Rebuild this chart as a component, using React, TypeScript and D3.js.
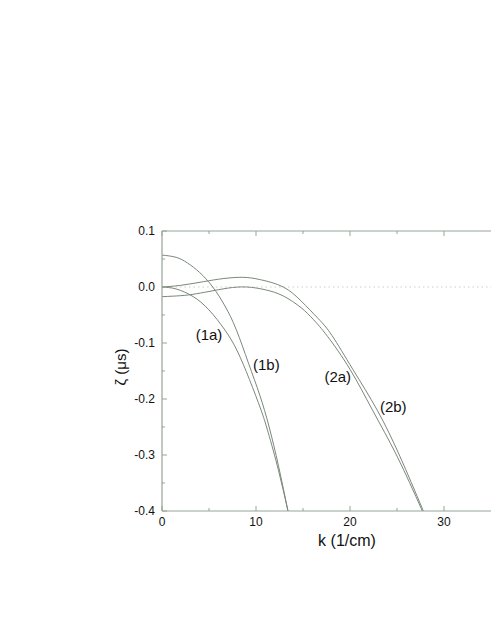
import React from "react";
import * as d3 from "d3";

// Curve (1a)
const k1a = [0, 1.5, 3.3, 5, 6.7, 8, 9.3, 10.5, 11.3, 12.4, 13.4];
const z1a = [0, -0.0035, -0.017, -0.041, -0.077, -0.114, -0.165, -0.218, -0.26, -0.328, -0.4];
// Curve (1b)
const k1b = [0, 1.5, 2.7, 4, 5.4, 6.7, 7.9, 9.2, 10.4, 11.4, 12.4, 13.4];
const z1b = [0.057, 0.053, 0.043, 0.026, 0, -0.034, -0.076, -0.136, -0.193, -0.25, -0.32, -0.4];
// Curve (2a)
const k2a = [0, 2, 3.3, 5, 7, 9, 11, 12.9, 14.8, 16.1, 17.6, 20.0, 22.4, 25.0, 27.7];
const z2a = [-0.0173, -0.0155, -0.013, -0.008, -0.002, 0, -0.005, -0.016, -0.037, -0.058, -0.088, -0.147, -0.22, -0.302, -0.4];
// Curve (2b)
const k2b = [0, 2, 4.4, 6.5, 8.6, 10.5, 12.9, 14.8, 16.6, 18.1, 20.3, 22.9, 25.3, 27.8];
const z2b = [0, 0.003, 0.0095, 0.015, 0.0173, 0.013, 0, -0.025, -0.056, -0.087, -0.147, -0.22, -0.302, -0.4];

const curveNames = ["(1a)", "(1b)", "(2a)", "(2b)"];
const labelK = [5.0, 11.1, 18.7, 24.6];
const labelZ = [-0.086, -0.139, -0.161, -0.214];

const xMajor = [0, 10, 20, 30];
const xMajorLabels = ["0", "10", "20", "30"];
const xMinor = [5, 15, 25];
const yMajor = [0.1, 0, -0.1, -0.2, -0.3, -0.4];
const yMajorLabels = ["0.1", "0.0", "-0.1", "-0.2", "-0.3", "-0.4"];
const yMinor = [0.05, -0.05, -0.15, -0.25, -0.35];

const W = 491;
const H = 635;
const left = 162;
const right = 491;
const top = 231;
const bottom = 511;

export default function App() {
  const x = d3.scaleLinear().domain([0, 35]).range([left, right]);
  const y = d3.scaleLinear().domain([-0.4, 0.1]).range([bottom, top]);
  const line = d3
    .line<[number, number]>()
    .x((d) => x(d[0]))
    .y((d) => y(d[1]))
    .curve(d3.curveNatural);

  const series: [number[], number[]][] = [
    [k1a, z1a],
    [k1b, z1b],
    [k2a, z2a],
    [k2b, z2b],
  ];
  const axisColor = "#98a398";
  const lineColor = "#7a887a";
  const font = "'Liberation Sans', Arial, Helvetica, sans-serif";

  return (
    <svg
      width={W}
      height={H}
      style={{ position: "absolute", left: 0, top: 0, background: "#fff" }}
      fontFamily={font}
    >
      <defs>
        <clipPath id="plotclip">
          <rect x={left} y={top} width={right - left} height={bottom - top} />
        </clipPath>
      </defs>
      {/* zero dotted line */}
      <line
        x1={x(0)}
        x2={right}
        y1={y(0)}
        y2={y(0)}
        stroke="#c9d0c9"
        strokeWidth={1}
        strokeDasharray="1.5,3"
      />
      {/* curves */}
      <g clipPath="url(#plotclip)">
        {series.map(([ks, zs], i) => (
          <path
            key={i}
            d={line(ks.map((k, j) => [k, zs[j]] as [number, number])) || ""}
            fill="none"
            stroke={lineColor}
            strokeWidth={1}
          />
        ))}
      </g>
      {/* frame */}
      <line x1={left} x2={right} y1={top} y2={top} stroke={axisColor} strokeWidth={1.2} />
      <line x1={left} x2={right} y1={bottom} y2={bottom} stroke={axisColor} strokeWidth={1.2} />
      <line x1={left} x2={left} y1={top} y2={bottom} stroke={axisColor} strokeWidth={1.2} />
      {/* x ticks */}
      {xMajor.map((v, i) => (
        <g key={"xm" + i}>
          <line x1={x(v)} x2={x(v)} y1={bottom} y2={bottom - 5} stroke={axisColor} />
          <line x1={x(v)} x2={x(v)} y1={top} y2={top + 5} stroke={axisColor} />
          <text x={x(v)} y={bottom + 15} textAnchor="middle" fontSize={12} fill="#111">
            {xMajorLabels[i]}
          </text>
        </g>
      ))}
      {xMinor.map((v, i) => (
        <g key={"xn" + i}>
          <line x1={x(v)} x2={x(v)} y1={bottom} y2={bottom - 3} stroke={axisColor} />
          <line x1={x(v)} x2={x(v)} y1={top} y2={top + 3} stroke={axisColor} />
        </g>
      ))}
      {/* y ticks */}
      {yMajor.map((v, i) => (
        <g key={"ym" + i}>
          <line x1={left} x2={left + 5} y1={y(v)} y2={y(v)} stroke={axisColor} />
          <text x={left - 7} y={y(v) + 4} textAnchor="end" fontSize={12} fill="#111">
            {yMajorLabels[i]}
          </text>
        </g>
      ))}
      {yMinor.map((v, i) => (
        <line key={"yn" + i} x1={left} x2={left + 3} y1={y(v)} y2={y(v)} stroke={axisColor} />
      ))}
      {/* axis titles */}
      <text x={347} y={546} textAnchor="middle" fontSize={16} fill="#111">
        k (1/cm)
      </text>
      <text
        transform={`translate(126, ${(top + bottom) / 2 - 4}) rotate(-90)`}
        textAnchor="middle"
        fontSize={15}
        fill="#111"
      >
        ζ (μs)
      </text>
      {/* curve labels */}
      {curveNames.map((n, i) => (
        <text
          key={n}
          x={x(labelK[i])}
          y={y(labelZ[i]) + 5}
          textAnchor="middle"
          fontSize={15}
          fill="#111"
        >
          {n}
        </text>
      ))}
    </svg>
  );
}
